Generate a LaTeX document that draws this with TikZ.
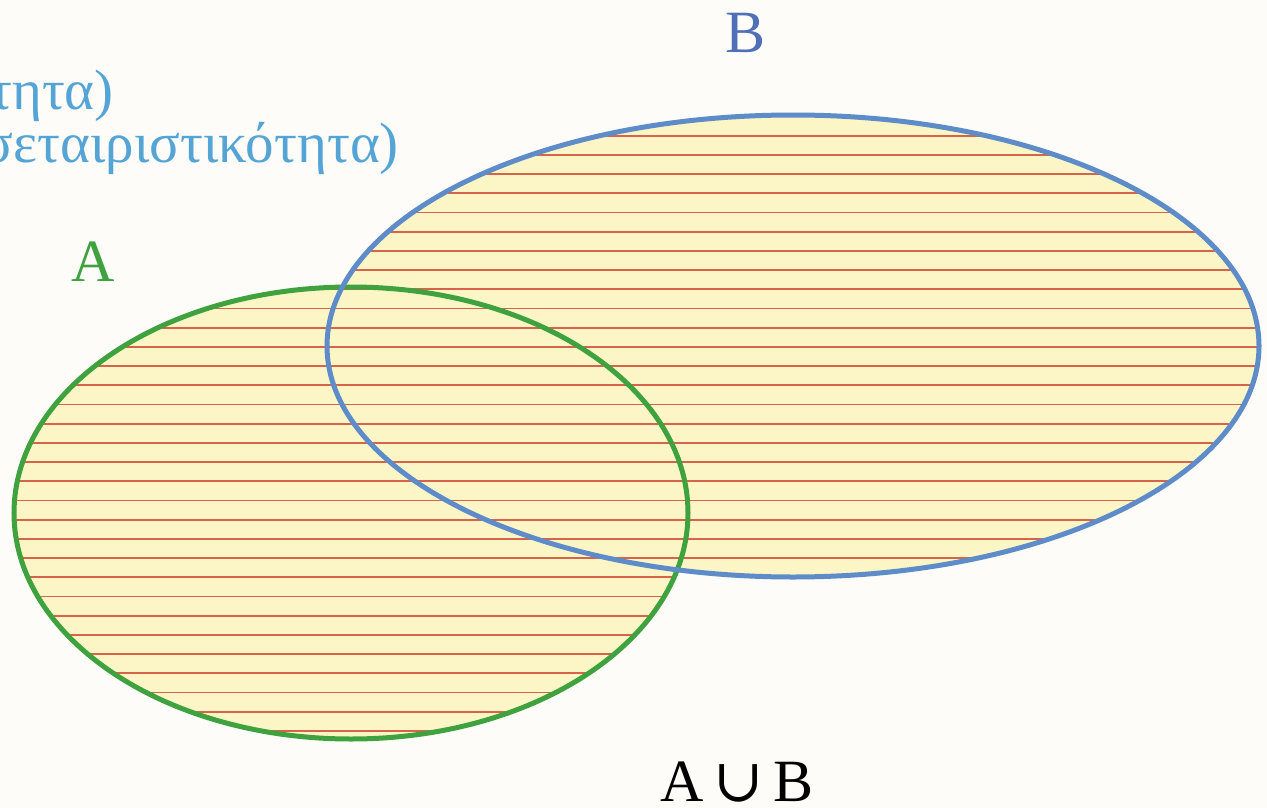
\documentclass[tikz,border=0pt]{standalone}
\usepackage{fontspec}
\setmainfont{Liberation Serif}
\newfontfamily\djserif{DejaVu Serif}
\definecolor{bgc}{HTML}{FDFCF8}
\definecolor{fillc}{HTML}{FCF6C6}
\definecolor{redl}{HTML}{D6644A}
\definecolor{greenc}{HTML}{3FA23F}
\definecolor{bluec}{HTML}{5E8CC9}
\definecolor{blabel}{HTML}{4F6FB6}
\definecolor{greekc}{HTML}{55A4D6}
\begin{document}
\begin{tikzpicture}[x=1pt,y=-1pt,
  stripe/.style={draw=redl,line width=1.8pt},
  outlineA/.style={draw=greenc,line width=5pt},
  outlineB/.style={draw=bluec,line width=5pt},
  greektext/.style={text=greekc,font=\fontsize{57}{64}\selectfont,inner sep=0pt,anchor=base east},
  setlabel/.style={font=\fontsize{60}{66}\selectfont,inner sep=0pt}]
\useasboundingbox (0,0) rectangle (1267,808);
\fill[bgc] (0,0) rectangle (1267,808);
% fills
\fill[fillc] (351,513) ellipse [x radius=337pt, y radius=226pt];
\fill[fillc] (793,346) ellipse [x radius=466pt, y radius=231pt];
% stripes
\begin{scope}
  \clip (351,513) ellipse [x radius=337pt, y radius=226pt];
  \foreach \k in {0,...,32} {\draw[stripe] (0,{135.6+19.2*\k}) -- (1267,{135.6+19.2*\k});}
\end{scope}
\begin{scope}
  \clip (793,346) ellipse [x radius=466pt, y radius=231pt];
  \foreach \k in {0,...,32} {\draw[stripe] (0,{135.6+19.2*\k}) -- (1267,{135.6+19.2*\k});}
\end{scope}
% outlines
\draw[outlineA] (351,513) ellipse [x radius=337pt, y radius=226pt];
\draw[outlineB] (793,346) ellipse [x radius=466pt, y radius=231pt];
% texts
\node[greektext] (g1) at (114,110) {τητα)};
\node[greektext] (g2) at (399,162) {σεταιριστικότητα)};
\node[setlabel,text=greenc] (la) at (93,262) {A};
\node[setlabel,text=blabel] (lb) at (746,33) {B};
\node[setlabel,text=black,anchor=base] (lab) at (737,801) {A\,{\djserif ∪}\,B};
\end{tikzpicture}
\end{document}
